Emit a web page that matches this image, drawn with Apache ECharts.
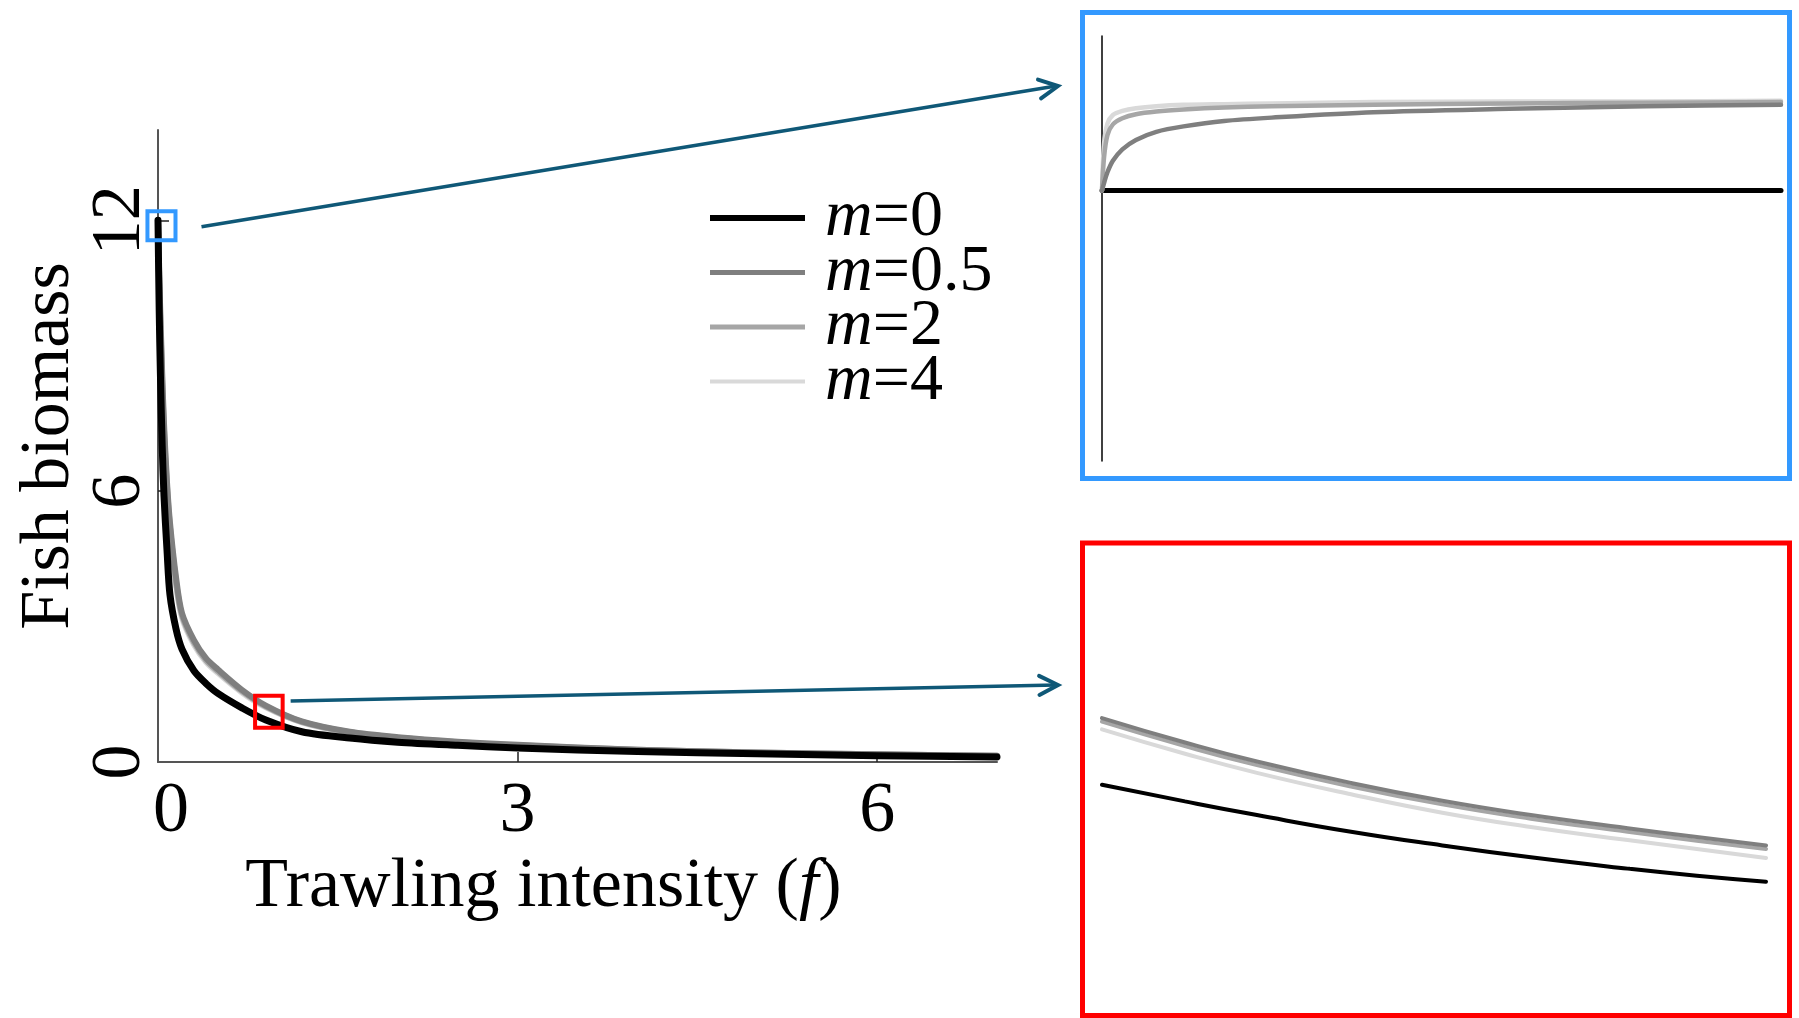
<!DOCTYPE html>
<html>
<head>
    <meta charset="utf-8">
    <title>Fish biomass vs trawling intensity</title>
    <script src="https://cdn.jsdelivr.net/npm/echarts@6.0.0/dist/echarts.min.js"></script>
    <style>
        html, body { margin: 0; padding: 0; background: #fff; }
        #main { width: 1799px; height: 1018px; }
    </style>
</head>
<body>
<div id="main"></div>
<script type="text/javascript">
    // main panel: fish biomass against trawling intensity f
    var fValues = [0, 0.01, 0.02, 0.035, 0.05, 0.075, 0.1, 0.15, 0.2, 0.3, 0.4, 0.5, 0.7, 0.9, 1.2, 1.6, 2, 2.5, 3, 4, 5, 6, 7];
    var bioM0   = [12.0, 10.0, 8.6, 7.0, 5.9, 4.7, 3.7, 2.95, 2.5, 2.02, 1.74, 1.52, 1.2, 0.93, 0.67, 0.53, 0.44, 0.37, 0.31, 0.23, 0.18, 0.14, 0.11];
    var bioM05  = [12.0, 10.8, 9.9, 8.6, 7.5, 6.2, 5.3, 4.1, 3.3, 2.7, 2.3, 2.05, 1.6, 1.25, 0.9, 0.67, 0.55, 0.45, 0.38, 0.27, 0.21, 0.17, 0.14];
    var bioM2   = [12.0, 10.6, 9.7, 8.4, 7.35, 6.1, 5.2, 4.0, 3.25, 2.65, 2.26, 2.01, 1.57, 1.23, 0.89, 0.66, 0.54, 0.44, 0.37, 0.27, 0.21, 0.17, 0.14];
    var bioM4   = [12.0, 10.4, 9.5, 8.2, 7.2, 6.0, 5.1, 3.95, 3.2, 2.6, 2.22, 1.97, 1.54, 1.21, 0.88, 0.65, 0.53, 0.43, 0.36, 0.26, 0.2, 0.16, 0.13];

    // blue inset (zoom near f = 0, biomass ~ 12)
    var topX    = [0, 0.003, 0.008, 0.016, 0.03, 0.05, 0.08, 0.12, 0.18, 0.25, 0.4, 0.6, 0.8, 1.0];
    var topM0   = [11.951, 11.951, 11.951, 11.951, 11.951, 11.951, 11.951, 11.951, 11.951, 11.951, 11.951, 11.951, 11.951, 11.951];
    var topM05  = [11.951, 11.962, 11.978, 11.995, 12.012, 12.026, 12.038, 12.046, 12.054, 12.059, 12.067, 12.072, 12.076, 12.078];
    var topM2   = [11.951, 12.0, 12.033, 12.049, 12.058, 12.064, 12.068, 12.071, 12.074, 12.076, 12.078, 12.08, 12.081, 12.082];
    var topM4   = [11.951, 12.02, 12.05, 12.063, 12.069, 12.073, 12.076, 12.078, 12.079, 12.08, 12.082, 12.083, 12.083, 12.084];

    // red inset (zoom near f = 0.9, biomass ~ 1)
    var lowF    = [0.8, 0.83, 0.856, 0.89, 0.923, 0.955, 0.99, 1.015, 1.04];
    var lowM0   = [1.097, 1.069, 1.046, 1.018, 0.995, 0.975, 0.956, 0.944, 0.934];
    var lowM05  = [1.209, 1.168, 1.136, 1.1, 1.07, 1.046, 1.024, 1.009, 0.995];
    var lowM2   = [1.203, 1.162, 1.13, 1.094, 1.064, 1.04, 1.018, 1.003, 0.989];
    var lowM4   = [1.19, 1.149, 1.117, 1.081, 1.05, 1.026, 1.004, 0.989, 0.974];

    var xTicks = [0, 3, 6];
    var yTicks = [0, 6, 12];
    var names = ['m=0', 'm=0.5', 'm=2', 'm=4'];

    // zoom windows on the main panel, in data units
    var blueWin = {f: [-0.088, 0.146], b: [11.56, 12.2]};
    var redWin = {f: [0.81, 1.04], b: [0.76, 1.47]};

    var serif = 'Liberation Serif, Times New Roman, serif';
    var colors = {'m=0': '#000000', 'm=0.5': '#7f7f7f', 'm=2': '#a6a6a6', 'm=4': '#d9d9d9'};
    var legendThick = {'m=0': 6, 'm=0.5': 5, 'm=2': 5, 'm=4': 4};
    var arrowColor = '#0f5877';

    function pairs(xs, ys) {
        return xs.map(function (x, i) { return [x, ys[i]]; });
    }

    function lineSeries(name, xs, ys, grid, width) {
        return {
            name: name,
            type: 'line',
            xAxisIndex: grid,
            yAxisIndex: grid,
            data: pairs(xs, ys),
            smooth: grid === 2 ? 0.5 : 0.3,
            symbol: 'none',
            animation: false,
            color: colors[name],
            lineStyle: {color: colors[name], width: width, cap: 'round', join: 'round'}
        };
    }

    var chart = echarts.init(document.getElementById('main'));

    var series = [
        lineSeries('m=4', fValues, bioM4, 0, 6),
        lineSeries('m=2', fValues, bioM2, 0, 6),
        lineSeries('m=0.5', fValues, bioM05, 0, 6),
        lineSeries('m=0', fValues, bioM0, 0, 7),
        lineSeries('m=0', topX, topM0, 1, 5),
        lineSeries('m=4', topX, topM4, 1, 4.5),
        lineSeries('m=2', topX, topM2, 1, 4.5),
        lineSeries('m=0.5', topX, topM05, 1, 4.5),
        lineSeries('m=4', lowF, lowM4, 2, 4),
        lineSeries('m=2', lowF, lowM2, 2, 4),
        lineSeries('m=0.5', lowF, lowM05, 2, 4),
        lineSeries('m=0', lowF, lowM0, 2, 4)
    ];

    var legendData = names.map(function (n) {
        var t = legendThick[n];
        return {
            name: n,
            icon: 'path://M0,0L95,0L95,' + t + 'L0,' + t + 'Z',
            itemStyle: {color: colors[n]}
        };
    });

    var option = {
        backgroundColor: '#ffffff',
        animation: false,
        grid: [
            {left: 158, top: 130, width: 839, height: 632},
            {left: 1102, top: 36, width: 679, height: 425},
            {left: 1102, top: 539, width: 664, height: 476}
        ],
        legend: {
            data: legendData,
            orient: 'vertical',
            left: 705,
            top: 180,
            itemWidth: 95,
            itemHeight: 14,
            itemGap: -11.5,
            selectedMode: false,
            formatter: function (name) {
                return '{pad| }{it|m}{n|' + name.slice(1) + '}';
            },
            textStyle: {
                fontFamily: serif,
                fontSize: 66,
                color: '#000',
                rich: {
                    pad: {width: 15, fontSize: 66},
                    it: {fontFamily: serif, fontStyle: 'italic', fontSize: 66, color: '#000'},
                    n: {fontFamily: serif, fontSize: 66, color: '#000'}
                }
            }
        },
        xAxis: [
            {
                gridIndex: 0,
                type: 'value',
                min: 0,
                max: 7,
                interval: 3,
                name: '{n|Trawling intensity (}{i|f}{n|)}',
                nameLocation: 'middle',
                nameGap: 90,
                nameTextStyle: {
                    padding: [0, 68, 0, 0],
                    rich: {
                        n: {fontFamily: serif, fontSize: 70, color: '#000'},
                        i: {fontFamily: serif, fontSize: 70, fontStyle: 'italic', color: '#000'}
                    }
                },
                axisLine: {show: true, onZero: false, lineStyle: {color: '#555', width: 2}},
                axisTick: {show: true, inside: true, length: 10, customValues: [3, 6], lineStyle: {color: '#222', width: 1.5}},
                axisLabel: {
                    customValues: xTicks,
                    margin: 14,
                    fontFamily: serif,
                    fontSize: 72,
                    color: '#000',
                    formatter: function (v) {
                        return v === 0 ? '{z|0}' : String(v);
                    },
                    rich: {
                        z: {fontFamily: serif, fontSize: 72, color: '#000', padding: [0, 0, 0, 26]}
                    }
                },
                splitLine: {show: false}
            },
            {gridIndex: 1, type: 'value', min: 0, max: 1, show: false},
            {gridIndex: 2, type: 'value', min: 0.8, max: 1.04, show: false}
        ],
        yAxis: [
            {
                gridIndex: 0,
                type: 'value',
                min: 0,
                max: 14,
                interval: 6,
                name: 'Fish biomass',
                nameLocation: 'middle',
                nameGap: 73,
                nameTextStyle: {fontFamily: serif, fontSize: 70, color: '#000'},
                axisLine: {show: true, onZero: false, lineStyle: {color: '#555', width: 2}},
                axisTick: {show: true, inside: true, length: 11, customValues: [6, 12], lineStyle: {color: '#222', width: 1.5}},
                axisLabel: {
                    customValues: yTicks,
                    rotate: 90,
                    margin: 2,
                    fontFamily: serif,
                    fontSize: 70,
                    color: '#000'
                },
                splitLine: {show: false}
            },
            {
                gridIndex: 1,
                type: 'value',
                min: 11.55,
                max: 12.18,
                axisLine: {show: true, onZero: false, lineStyle: {color: '#000', width: 1.5}},
                axisTick: {show: false},
                axisLabel: {show: false},
                splitLine: {show: false}
            },
            {gridIndex: 2, type: 'value', min: 0.71, max: 1.51, show: false}
        ],
        series: series
    };

    chart.setOption(option);

    // zoom squares on the main panel, placed through the main axes
    function winRect(win) {
        var p1 = chart.convertToPixel({gridIndex: 0}, [win.f[0], win.b[1]]);
        var p2 = chart.convertToPixel({gridIndex: 0}, [win.f[1], win.b[0]]);
        return {x: p1[0], y: p1[1], width: p2[0] - p1[0], height: p2[1] - p1[1]};
    }

    function arrow(x1, y1, x2, y2) {
        var ang = Math.atan2(y2 - y1, x2 - x1), len = 21, spread = 0.47;
        return [
            {type: 'line', z: 10, shape: {x1: x1, y1: y1, x2: x2 - 2, y2: y2},
                style: {stroke: arrowColor, lineWidth: 3.5}},
            {type: 'polyline', z: 10, shape: {points: [
                [x2 - len * Math.cos(ang - spread), y2 - len * Math.sin(ang - spread)],
                [x2, y2],
                [x2 - len * Math.cos(ang + spread), y2 - len * Math.sin(ang + spread)]
            ]}, style: {stroke: arrowColor, lineWidth: 4, fill: null, lineCap: 'round', lineJoin: 'miter'}}
        ];
    }

    var bRect = winRect(blueWin);
    var rRect = winRect(redWin);

    var graphics = [
        {type: 'rect', z: 10, shape: bRect, style: {fill: null, stroke: '#3399ff', lineWidth: 4}},
        {type: 'rect', z: 10, shape: rRect, style: {fill: null, stroke: '#ff0000', lineWidth: 4}},
        {type: 'rect', z: 10, shape: {x: 1082.5, y: 12.5, width: 707, height: 466}, style: {fill: null, stroke: '#3399ff', lineWidth: 5}},
        {type: 'rect', z: 10, shape: {x: 1082.5, y: 543, width: 707, height: 472.5}, style: {fill: null, stroke: '#ff0000', lineWidth: 5}}
    ];
    graphics = graphics.concat(arrow(bRect.x + bRect.width + 26, bRect.y + bRect.height / 2 + 1, 1058, 86));
    graphics = graphics.concat(arrow(rRect.x + rRect.width + 8, 701, 1058, 685));

    chart.setOption({graphic: graphics});
</script>
</body>
</html>
